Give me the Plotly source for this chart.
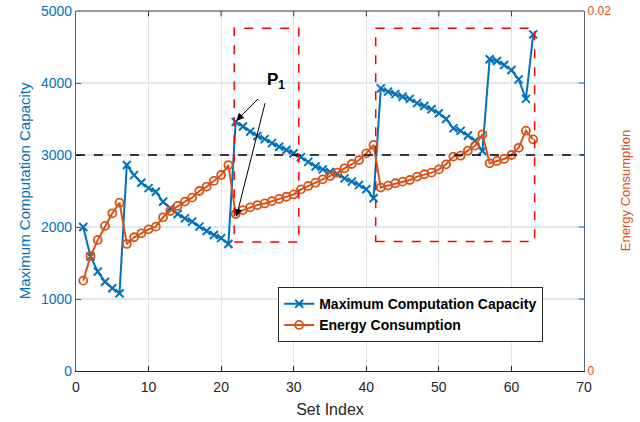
import plotly.graph_objects as go

set_index = list(range(1, 64))
max_capacity = [2000, 1590, 1380, 1240, 1150, 1080, 2860, 2720, 2615, 2540, 2490, 2350, 2260, 2180, 2120, 2075, 2005, 1945, 1890, 1845, 1765,
                3460, 3395, 3325, 3265, 3220, 3165, 3115, 3070, 3025, 2970, 2905, 2840, 2800, 2765, 2735, 2675, 2630, 2585, 2525, 2400,
                3925, 3880, 3845, 3810, 3780, 3720, 3680, 3635, 3580, 3500, 3370, 3335, 3270, 3200, 3055, 4330, 4305, 4250, 4180, 4050, 3780, 4675]
energy = [0.00502, 0.00639, 0.00728, 0.00806, 0.00876, 0.00935, 0.00706, 0.00743, 0.00765, 0.00787, 0.00802, 0.00854, 0.00889, 0.00917,
          0.00941, 0.00963, 0.01000, 0.01024, 0.01056, 0.01089, 0.01144,
          0.00872, 0.00894, 0.00909, 0.00922, 0.00931, 0.00944, 0.00956, 0.00968, 0.00981, 0.01009, 0.01028, 0.01046, 0.01065,
          0.01083, 0.01102, 0.01126, 0.01150, 0.01172, 0.01209, 0.01256,
          0.01019, 0.01030, 0.01043, 0.01052, 0.01061, 0.01080, 0.01093, 0.01102, 0.01120, 0.01148, 0.01191, 0.01196, 0.01224,
          0.01252, 0.01315, 0.01154, 0.01167, 0.01178, 0.01200, 0.01240, 0.01335, 0.01287]
threshold = 3000
boxes = [(21.8, 30.7, 1790, 4760), (41.3, 63.2, 1800, 4760)]
x_ticks = [0, 10, 20, 30, 40, 50, 60, 70]
y_ticks = [0, 1000, 2000, 3000, 4000, 5000]

BLUE = "#0072BD"
ORANGE = "#D95319"
FONT = "Liberation Sans, Arial, sans-serif"

fig = go.Figure()
fig.add_trace(go.Scatter(
    x=set_index, y=max_capacity, name="Maximum Computation Capacity", mode="lines+markers",
    line=dict(color=BLUE, width=2),
    marker=dict(symbol="x-thin-open", size=8, color=BLUE, line=dict(color=BLUE, width=2)),
    yaxis="y"))
fig.add_trace(go.Scatter(
    x=set_index, y=energy, name="Energy Consumption", mode="lines+markers",
    line=dict(color=ORANGE, width=2),
    marker=dict(symbol="circle-open", size=8, color=ORANGE, line=dict(color=ORANGE, width=1.8)),
    yaxis="y2"))

shapes = []
shapes.append(dict(type="line", xref="x", yref="y", x0=0, x1=70, y0=threshold, y1=threshold,
                   line=dict(color="black", width=1.5, dash="dash")))
for x0, x1, y0, y1 in boxes:
    shapes.append(dict(type="rect", xref="x", yref="y", x0=x0, x1=x1, y0=y0, y1=y1,
                       line=dict(color="#FF0000", width=1.5, dash="dash")))
# top border and mirrored ticks
shapes.append(dict(type="line", xref="paper", yref="paper", x0=0, x1=1, y0=1, y1=1,
                   line=dict(color="#333333", width=1)))
for t in y_ticks[1:-1]:
    shapes.append(dict(type="line", xref="paper", yref="y", x0=0.99, x1=1, y0=t, y1=t,
                       line=dict(color=BLUE, width=1)))
for t in x_ticks[1:-1]:
    shapes.append(dict(type="line", xref="x", yref="paper", x0=t, x1=t, y0=0.985, y1=1,
                       line=dict(color="#333333", width=1)))

annotations = [
    dict(x=22.1, y=3476, ax=25.3, ay=3800, xref="x", yref="y", axref="x", ayref="y", text="",
         showarrow=True, arrowhead=2, arrowsize=1.5, arrowwidth=1, arrowcolor="black"),
    dict(x=22.1, y=2143, ax=26.1, ay=3740, xref="x", yref="y", axref="x", ayref="y", text="",
         showarrow=True, arrowhead=2, arrowsize=1.5, arrowwidth=1, arrowcolor="black"),
    dict(x=27.6, y=4030, xref="x", yref="y", text="<b>P<sub>1</sub></b>", showarrow=False,
         font=dict(family=FONT, size=17, color="black")),
    dict(x=1.081, y=0.5, xref="paper", yref="paper", xanchor="center", yanchor="middle",
         text="Energy Consumption", textangle=-90,
         showarrow=False, font=dict(family=FONT, size=13, color=ORANGE)),
]

fig.update_layout(
    width=640, height=422,
    margin=dict(l=76, r=56, t=11, b=51, autoexpand=False),
    paper_bgcolor="white", plot_bgcolor="white",
    font=dict(family=FONT, size=14, color="#262626"),
    showlegend=True,
    legend=dict(x=0.398, y=0.233, xanchor="left", yanchor="top",
                bgcolor="white", bordercolor="#262626", borderwidth=1,
                font=dict(family=FONT, size=14, color="black", weight="bold"),
                itemwidth=30, tracegroupgap=0),
    xaxis=dict(range=[0, 70], tickvals=x_ticks, showgrid=True, gridcolor="#e3e3e3", gridwidth=1,
               zeroline=False, showline=True, linecolor="#262626", linewidth=1, automargin=False,
               ticks="inside", ticklen=5, tickcolor="#262626", ticklabelstandoff=3,
               title=dict(text="Set Index", font=dict(size=16, color="#262626"), standoff=10),
               tickfont=dict(size=14, color="#262626")),
    yaxis=dict(range=[0, 5000], tickvals=y_ticks, showgrid=True, gridcolor="#dbe7f3", gridwidth=1.5,
               zeroline=False, showline=True, linecolor=BLUE, linewidth=1.2, automargin=False,
               ticks="inside", ticklen=5, tickcolor=BLUE,
               tickfont=dict(size=14, color=BLUE),
               title=dict(text="Maximum Computation Capacity", font=dict(size=15, color=BLUE), standoff=6)),
    yaxis2=dict(range=[0, 0.02], tickvals=[0, 0.02], ticktext=["0", "0.02"], overlaying="y", side="right",
                showgrid=False, zeroline=False, showline=True, linecolor="#5a6470", linewidth=1.2,
                automargin=False, ticks="inside", ticklen=5, tickcolor=ORANGE,
                tickfont=dict(size=12, color=ORANGE)),
    shapes=shapes,
    annotations=annotations,
)

fig.write_html("out.html")
